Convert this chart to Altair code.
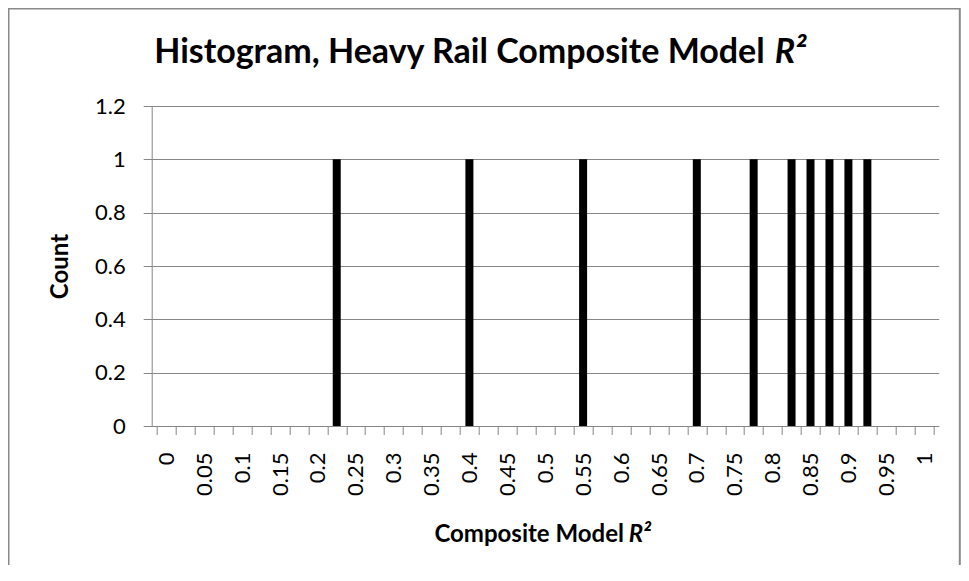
import altair as alt
import pandas as pd

# ---- data ----
bins = [0.0, 0.025, 0.05, 0.075, 0.1, 0.125, 0.15, 0.175, 0.2, 0.225,
        0.25, 0.275, 0.3, 0.325, 0.35, 0.375, 0.4, 0.425, 0.45, 0.475,
        0.5, 0.525, 0.55, 0.575, 0.6, 0.625, 0.65, 0.675, 0.7, 0.725,
        0.75, 0.775, 0.8, 0.825, 0.85, 0.875, 0.9, 0.925, 0.95, 0.975, 1.0]
counts = [0, 0, 0, 0, 0, 0, 0, 0, 0, 1,
          0, 0, 0, 0, 0, 0, 1, 0, 0, 0,
          0, 0, 1, 0, 0, 0, 0, 0, 1, 0,
          0, 1, 0, 1, 1, 1, 1, 1, 0, 0, 0]
x_labels = ["0", "0.05", "0.1", "0.15", "0.2", "0.25", "0.3", "0.35", "0.4",
            "0.45", "0.5", "0.55", "0.6", "0.65", "0.7", "0.75", "0.8",
            "0.85", "0.9", "0.95", "1"]
y_ticks = [0, 0.2, 0.4, 0.6, 0.8, 1.0, 1.2]
title_main = "Histogram, Heavy Rail Composite Model"
title_var = "R\u00b2"
x_title = "Composite Model"
y_title = "Count"

# ---- layout / style ----
W, H = 787, 320
FONT = "Lato"
GRAY = "#868686"
step = 0.025
half = step / 2
bandpx = W / len(bins)
PAD_L, PAD_T = 143.7, 98
TOTAL_W, TOTAL_H = 953, 557

df = pd.DataFrame({"r2": bins, "count": counts})
one = pd.DataFrame({"k": [0]})

tick_vals = [b - half for b in bins] + [bins[-1] + half]
idx = f"round((datum.value+{half})/{step})"
label_list = "[" + ",".join(f"'{s}'" for s in x_labels) + "]"
label_expr = f"({idx} % 2 == 0 && {idx} <= {len(bins) - 1}) ? {label_list}[{idx}/2] : ''"

bars = alt.Chart(df).transform_filter("datum.count > 0").mark_bar(
    color="black", size=8
).encode(
    x=alt.X("r2:Q",
            scale=alt.Scale(domain=[bins[0] - half, bins[-1] + half], nice=False, zero=False),
            axis=alt.Axis(values=tick_vals, labelExpr=label_expr, labelAngle=270,
                          labelOffset=bandpx / 2, tickSize=8.5, labelPadding=17.5,
                          grid=False, title=None, labelOverlap=False,
                          labelFlush=False, labelBound=False)),
    y=alt.Y("count:Q",
            scale=alt.Scale(domain=[0, 1.2], nice=False),
            axis=alt.Axis(values=y_ticks, format="~g", title=y_title,
                          tickSize=8.5, labelPadding=18, grid=True,
                          titleX=-84.7, titleY=H / 2, titleAngle=270,
                          titleAlign="center", titleBaseline="alphabetic",
                          titleFont=FONT, titleFontSize=24, titleFontWeight="bold",
                          titleColor="black")),
)

border = alt.Chart(one).mark_rect(filled=False, color="#898989", strokeWidth=2).encode(
    x=alt.value(-PAD_L + 0.5), x2=alt.value(TOTAL_W - PAD_L - 1.2),
    y=alt.value(-PAD_T + 0.5), y2=alt.value(620)
)

t1 = alt.Chart(one).mark_text(align="right", baseline="alphabetic", font=FONT,
                              fontSize=34, fontWeight="bold", color="black").encode(
    x=alt.value(613), y=alt.value(-43.3), text=alt.value(title_main))
t2 = alt.Chart(one).mark_text(align="left", baseline="alphabetic", font=FONT,
                              fontSize=34, fontWeight="bold", fontStyle="italic",
                              color="black").encode(
    x=alt.value(623), y=alt.value(-43.3), text=alt.value(title_var))
xt1 = alt.Chart(one).mark_text(align="right", baseline="alphabetic", font=FONT,
                               fontSize=24, fontWeight="bold", color="black").encode(
    x=alt.value(472.3), y=alt.value(436.3), text=alt.value(x_title))
xt2 = alt.Chart(one).mark_text(align="left", baseline="alphabetic", font=FONT,
                               fontSize=24, fontWeight="bold", fontStyle="italic",
                               color="black").encode(
    x=alt.value(477), y=alt.value(436.3), text=alt.value(title_var))

chart = alt.layer(border, bars, t1, t2, xt1, xt2).properties(
    width=W, height=H,
    padding={"left": PAD_L, "top": PAD_T,
             "right": TOTAL_W - PAD_L - W, "bottom": TOTAL_H - PAD_T - H},
    autosize=alt.AutoSizeParams(type="none"),
    background="white",
).configure_view(stroke=None).configure_axis(
    labelFont=FONT, labelFontSize=22, labelColor="black",
    gridColor=GRAY, domainColor=GRAY, tickColor=GRAY,
    gridWidth=1, domainWidth=1, tickWidth=1,
)

chart.save("out.html", embed_options={"renderer": "svg", "actions": False})
